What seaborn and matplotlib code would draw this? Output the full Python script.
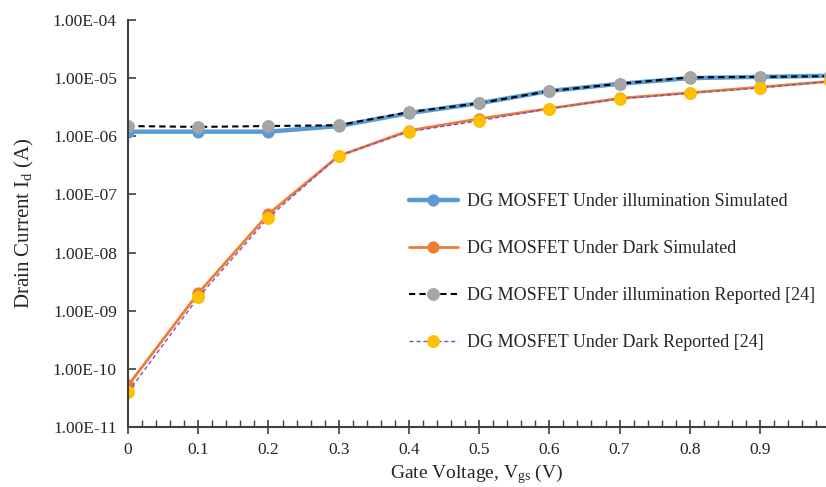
import numpy as np
import pandas as pd
import seaborn as sns
import matplotlib
matplotlib.use("Agg")
import matplotlib.pyplot as plt
from matplotlib.ticker import MultipleLocator, FuncFormatter, NullLocator, LogLocator

vgs = [0.0, 0.1, 0.2, 0.3, 0.4, 0.5, 0.6, 0.7, 0.8, 0.9, 1.0]
illum_sim = [1.2e-6, 1.2e-6, 1.2e-6, 1.5e-6, 2.5e-6, 3.7e-6, 6.0e-6, 8.0e-6, 1.0e-5, 1.05e-5, 1.1e-5]
dark_sim = [5.2e-11, 2.0e-9, 4.6e-8, 4.6e-7, 1.25e-6, 2.0e-6, 3.0e-6, 4.5e-6, 5.6e-6, 7.0e-6, 8.8e-6]
illum_rep = [1.5e-6, 1.45e-6, 1.5e-6, 1.55e-6, 2.6e-6, 3.7e-6, 6.0e-6, 8.0e-6, 1.03e-5, 1.05e-5, 1.08e-5]
dark_rep = [4.0e-11, 1.7e-9, 4.0e-8, 4.6e-7, 1.2e-6, 1.85e-6, 3.0e-6, 4.4e-6, 5.5e-6, 6.8e-6, 8.8e-6]

labels = ["DG MOSFET Under illumination Simulated",
          "DG MOSFET Under Dark Simulated",
          "DG MOSFET Under illumination Reported [24]",
          "DG MOSFET Under Dark Reported [24]"]

sns.set_style("white")
plt.rcParams['font.family'] = ['Liberation Serif', 'DejaVu Serif']
plt.rcParams['mathtext.fontset'] = 'custom'
plt.rcParams['mathtext.rm'] = 'Liberation Serif'
plt.rcParams['mathtext.it'] = 'Liberation Serif:italic'

fig = plt.figure(figsize=(8.26, 4.87), dpi=100)
ax = fig.add_axes([0.155, 0.123, 0.845, 0.836])

sns.lineplot(x=vgs, y=illum_sim, ax=ax, color="#5B9BD5", lw=3.2, marker="o", ms=8,
             markeredgecolor="#5B9BD5", label=labels[0])
sns.lineplot(x=vgs, y=dark_sim, ax=ax, color="#ED7D31", lw=2, marker="o", ms=8,
             markeredgecolor="#ED7D31", label=labels[1])
sns.lineplot(x=vgs, y=illum_rep, ax=ax, color="black", lw=1.5, ls=(0, (3, 2)), marker="o", ms=8.5,
             markerfacecolor="#A5A5A5", markeredgecolor="#A5A5A5", label=labels[2])
sns.lineplot(x=vgs, y=dark_rep, ax=ax, color="#7F4FC9", lw=1, ls=(0, (3, 2)), marker="o", ms=8.5,
             markerfacecolor="#FFC000", markeredgecolor="#FFC000", label=labels[3])

ax.set_yscale("log")
ax.set_ylim(1e-11, 1e-4)
ax.set_xlim(0, 0.994)
ax.yaxis.set_major_locator(LogLocator(base=10, numticks=20))
ax.yaxis.set_minor_locator(NullLocator())
ax.yaxis.set_major_formatter(FuncFormatter(lambda v, p: f"{v:.2E}"))
ax.xaxis.set_major_locator(MultipleLocator(0.1))
ax.xaxis.set_minor_locator(MultipleLocator(0.02))
ax.xaxis.set_major_formatter(FuncFormatter(lambda v, p: "0" if abs(v) < 1e-9 else f"{v:.1f}"))

for s in ["top", "right"]:
    ax.spines[s].set_visible(False)
for s in ["left", "bottom"]:
    ax.spines[s].set_color("#404040")
    ax.spines[s].set_linewidth(1.5)

ax.tick_params(axis="y", which="major", direction="in", length=6, width=1.2, color="#404040",
               labelsize=12.5, pad=8)
ax.tick_params(axis="x", which="major", direction="inout", length=10, width=1.2, color="#404040",
               labelsize=12.5, pad=6)
ax.tick_params(axis="x", which="minor", direction="in", length=5, width=1, color="#404040")
ax.tick_params(left=True, bottom=True)
ax.tick_params(axis="x", which="minor", bottom=True)

ax.set_xlabel("Gate Voltage, V$_\\mathrm{gs}$ (V)", fontsize=14, labelpad=3)
ax.set_ylabel("Drain Current I$_\\mathrm{d}$ (A)", fontsize=15, labelpad=12)

ax.legend(loc="upper left", bbox_to_anchor=(0.4753, 0.637), bbox_transform=fig.transFigure,
          frameon=False, fontsize=13, handlelength=2.7, labelspacing=1.67, handletextpad=0.5)

fig.savefig("out.png", dpi=100)
